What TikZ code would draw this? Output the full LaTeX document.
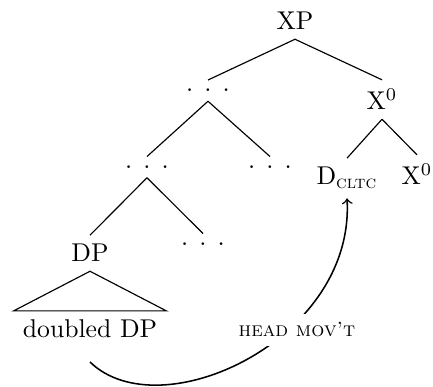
\documentclass[tikz,border=0pt]{standalone}
\usepackage{amsmath}
\begin{document}
\begin{tikzpicture}[x=0.389pt,y=-0.389pt,
  tn/.style={inner sep=3.4pt,anchor=base,font=\normalsize},
  br/.style={line width=0.45pt},
  mv/.style={semithick,->},
  lbl/.style={fill=white,inner sep=3.5pt,font=\footnotesize}]
\useasboundingbox (0,0) rectangle (433,387);
\newcommand{\ddd}{.\hspace{4.3pt}.\hspace{4.3pt}.}
\node[tn] (xp) at (295,30) {XP};
\node[tn] (d1) at (208,92) {\ddd};
\node[tn] (x1) at (382,110) {X$^0$};
\node[tn] (d2) at (147,168.5) {\ddd};
\node[tn] (d3) at (270,168.5) {\ddd};
\node[tn] (dc) at (347,185) {D$_{\text{\textsc{cltc}}}$};
\node[tn] (x2) at (417,185) {X$^0$};
\node[tn] (dp) at (90,262) {DP};
\node[tn] (d4) at (203,245.5) {\ddd};
\node[tn] (dd) at (90,338) {doubled DP};
\draw[br] (xp.south) -- (d1.north);
\draw[br] (xp.south) -- (x1.north);
\draw[br] (d1.south) -- (d2.north);
\draw[br] (d1.south) -- (d3.north);
\draw[br] (x1.south) -- (dc.north);
\draw[br] (x1.south) -- (x2.north);
\draw[br] (d2.south) -- (dp.north);
\draw[br] (d2.south) -- (d4.north);
\draw[br] (dp.south) -- (dd.north west) -- (dd.north east) -- cycle;
\coordinate (s) at (90,362);
\draw[mv] (s) .. controls (160,430) and (355,340) .. (dc.south);
\node[lbl] (hm) at (297,330) {\textsc{head mov't}};
\end{tikzpicture}
\end{document}
